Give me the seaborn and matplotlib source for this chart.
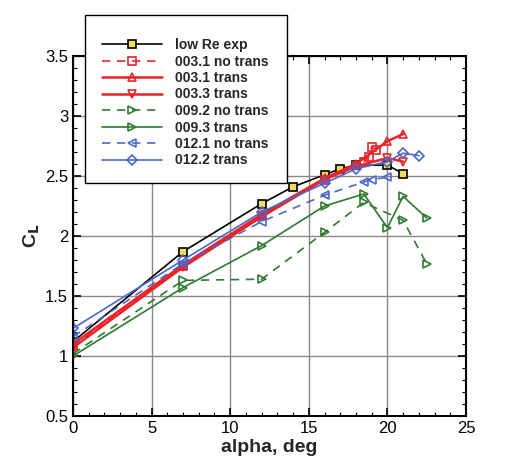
import matplotlib
matplotlib.use("Agg")
import matplotlib.pyplot as plt
import seaborn as sns
from matplotlib.ticker import MultipleLocator, FuncFormatter
from matplotlib.patches import Rectangle

sns.set_theme(style="ticks")
plt.rcParams['font.family'] = ['Liberation Sans', 'DejaVu Sans']
plt.rcParams['lines.dashed_pattern'] = [5, 4]

labels = ["low Re exp", "003.1 no trans", "003.1 trans", "003.3 trans",
          "009.2 no trans", "009.3 trans", "012.1 no trans", "012.2 trans"]

low_a = [0, 7, 12, 14, 16, 17, 18, 20, 21]
low_cl = [1.12, 1.87, 2.27, 2.41, 2.51, 2.56, 2.59, 2.59, 2.52]

r31n_a = [0, 7, 12, 16, 18.5, 18.8, 19, 19.3]
r31n_cl = [1.08, 1.75, 2.17, 2.47, 2.62, 2.66, 2.74, 2.72]

r31t_a = [0, 7, 12, 16, 18, 20, 21]
r31t_cl = [1.10, 1.76, 2.18, 2.48, 2.60, 2.79, 2.85]

r33t_a = [0, 7, 12, 16, 18, 20, 21]
r33t_cl = [1.07, 1.74, 2.16, 2.47, 2.58, 2.65, 2.62]

g92n_a = [0, 7, 12, 16, 18.5, 21, 22.5]
g92n_cl = [1.02, 1.63, 1.64, 2.03, 2.28, 2.13, 1.77]

g93t_a = [0, 7, 12, 16, 18.5, 20, 21, 22.5]
g93t_cl = [1.00, 1.57, 1.92, 2.25, 2.35, 2.07, 2.33, 2.15]

b121n_a = [0, 7, 12, 16, 18.5, 19, 20]
b121n_cl = [1.16, 1.77, 2.12, 2.34, 2.45, 2.47, 2.49]

b122t_a = [0, 7, 12, 16, 18, 20, 21, 22]
b122t_cl = [1.23, 1.80, 2.20, 2.44, 2.56, 2.62, 2.69, 2.67]

series = [
    (low_a, low_cl, dict(color="black", marker="s", ls="-", mfc="#f2dc5d", mec="black", lw=1.2)),
    (r31n_a, r31n_cl, dict(color="#e8242a", marker="s", ls="--", mfc="none", lw=1.2)),
    (r31t_a, r31t_cl, dict(color="#e8242a", marker="^", ls="-", mfc="none", lw=1.8)),
    (r33t_a, r33t_cl, dict(color="#e8242a", marker="v", ls="-", mfc="none", lw=1.8)),
    (g92n_a, g92n_cl, dict(color="#2f7a2f", marker=">", ls="--", mfc="none", lw=1.2)),
    (g93t_a, g93t_cl, dict(color="#2f7a2f", marker=">", ls="-", mfc="none", lw=1.2)),
    (b121n_a, b121n_cl, dict(color="#4a68c8", marker="<", ls="--", mfc="none", lw=1.2)),
    (b122t_a, b122t_cl, dict(color="#4a68c8", marker="D", ls="-", mfc="none", lw=1.2)),
]

W, H = 527, 466
fig = plt.figure(figsize=(W/100, H/100), dpi=100)
ax = fig.add_axes([73/W, 50/H, 393/W, 360/H])

for lab, (a, cl, st) in zip(labels, series):
    ms = 5.8 if st["marker"] != "D" else 5.0
    sns.lineplot(x=a, y=cl, ax=ax, label=lab, estimator=None, sort=False,
                 color=st["color"], marker=st["marker"], linestyle=st["ls"],
                 markerfacecolor=st["mfc"], markeredgecolor=st.get("mec", st["color"]),
                 markeredgewidth=1.2, markersize=ms, linewidth=st["lw"])

ax.set_xlim(0, 25)
ax.set_ylim(0.5, 3.5)
ax.xaxis.set_major_locator(MultipleLocator(5))
ax.xaxis.set_minor_locator(MultipleLocator(1))
ax.yaxis.set_major_locator(MultipleLocator(0.5))
ax.yaxis.set_minor_locator(MultipleLocator(0.1))
ax.grid(True, which="major", color="#888888", lw=1.0)
ax.tick_params(which="both", direction="in", top=True, right=True, labelsize=12, colors="black")
ax.tick_params(which="major", length=6, width=1.2)
ax.tick_params(which="minor", length=3, width=0.8)
for s in ax.spines.values():
    s.set_color("black")
    s.set_linewidth(1.5)

fmt = FuncFormatter(lambda v, pos: "%g" % v)
ax.xaxis.set_major_formatter(fmt)
ax.yaxis.set_major_formatter(fmt)

ax.set_xlabel("alpha, deg", fontsize=14, fontweight="bold", labelpad=2)
ax.set_ylabel(r"C$_\mathbf{L}$", fontsize=14, fontweight="bold", labelpad=2)

handles, labs = ax.get_legend_handles_labels()
ax.get_legend().remove()

# legend frame (drawn in figure pixels like the reference box)
fig.add_artist(Rectangle((85/W, 1 - 183/H), (287-85)/W, (183-15)/H,
                         transform=fig.transFigure, facecolor="white",
                         edgecolor="black", linewidth=1.0, zorder=4))
leg = fig.legend(handles, labs, loc="upper left",
                 bbox_to_anchor=(102/W, 1 - 38/H), bbox_transform=fig.transFigure,
                 frameon=False, prop={"weight": "bold", "size": 10},
                 handlelength=4.3, labelspacing=0.18, borderpad=0,
                 borderaxespad=0, handletextpad=0.93)
leg.set_zorder(5)

fig.savefig("out.png", dpi=100)
